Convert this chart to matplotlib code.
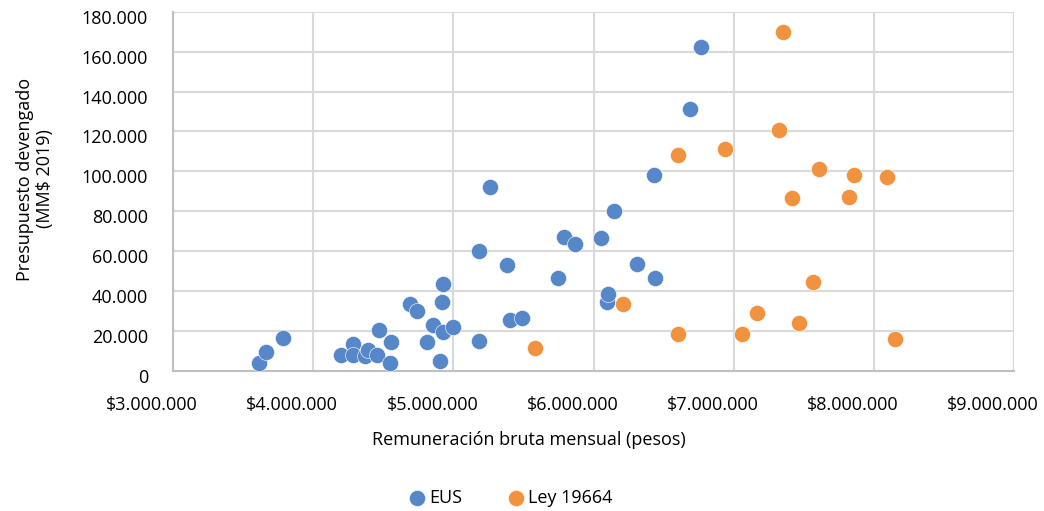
import matplotlib
matplotlib.use("Agg")
import matplotlib.pyplot as plt
import matplotlib.transforms as mtransforms
from matplotlib.ticker import FuncFormatter, MultipleLocator

plt.rcParams['font.family'] = ['Open Sans', 'DejaVu Sans']

# EUS: remuneración bruta mensual (pesos) vs presupuesto devengado (MM$ 2019)
eus_x = [3616000, 3665000, 3784000, 4197000, 4287000, 4287000, 4370000, 4394000,
         4458000, 4473000, 4549000, 4554000, 4688000, 4738000, 4810000, 4856000,
         4904000, 4920000, 4927000, 4927000, 5000000, 5185000, 5185000, 5261000,
         5385000, 5401000, 5487000, 5744000, 5789000, 5870000, 6055000, 6094000,
         6101000, 6146000, 6310000, 6433000, 6436000, 6690000, 6768000]
eus_y = [3860, 9670, 16390, 8020, 13530, 8020, 7520, 10530,
         8020, 20550, 4160, 14690, 33580, 30230, 14690, 23060,
         5160, 34740, 43450, 19700, 21900, 60300, 14890, 92360,
         52980, 25400, 26400, 46770, 67300, 63490, 66500, 34740,
         38440, 80200, 53630, 98200, 46770, 131330, 162560]

# Ley 19664
ley_x = [5582000, 6213000, 6603000, 6603000, 6935000, 7063000, 7163000, 7320000,
         7353000, 7419000, 7467000, 7563000, 7608000, 7826000, 7855000, 8093000,
         8150000]
ley_y = [11370, 33580, 18390, 108420, 111430, 18390, 29220, 120800,
         169770, 86560, 24060, 44610, 101400, 87220, 98250, 97090,
         16040]

blue = '#5687C9'
orange = '#F1923F'


def dots(v):
    return f"{int(round(v)):,}".replace(",", ".")


W, H = 1044, 511
fig = plt.figure(figsize=(W / 100, H / 100), dpi=100)
ax = fig.add_axes([173 / W, 1 - 371 / H, (1014 - 173) / W, (371 - 11.7) / H])

ax.scatter(eus_x, eus_y, s=135, color=blue, edgecolors='white', linewidths=0.4,
           label='EUS', zorder=3)
ax.scatter(ley_x, ley_y, s=135, color=orange, edgecolors='white', linewidths=0.4,
           label='Ley 19664', zorder=3)

ax.set_xlim(3000000, 9000000)
ax.set_ylim(0, 180000)
ax.xaxis.set_major_locator(MultipleLocator(1000000))
ax.yaxis.set_major_locator(MultipleLocator(20000))
ax.xaxis.set_major_formatter(FuncFormatter(lambda v, p: "$" + dots(v)))
ax.yaxis.set_major_formatter(FuncFormatter(lambda v, p: dots(v)))

ax.grid(True, color='#D9D9D9', linewidth=1.5, zorder=0)
ax.set_axisbelow(True)
for side in ['top', 'right']:
    ax.spines[side].set_visible(False)
for side in ['left', 'bottom']:
    ax.spines[side].set_color('#BFBFBF')
    ax.spines[side].set_linewidth(1.5)

ax.tick_params(axis='both', length=0, labelsize=13, colors='#000000')
ax.tick_params(axis='y', pad=18)
ax.tick_params(axis='x', pad=14)

# the source chart draws its tick labels slightly offset from the gridlines
xshift = mtransforms.ScaledTranslation(-21 / 100, -6 / 100, fig.dpi_scale_trans)
for lab in ax.get_xticklabels():
    lab.set_transform(lab.get_transform() + xshift)
yshift = mtransforms.ScaledTranslation(0, -5 / 100, fig.dpi_scale_trans)
for lab in ax.get_yticklabels():
    lab.set_transform(lab.get_transform() + yshift)

fig.text(529 / W, 1 - 440 / H, 'Remuneración bruta mensual (pesos)',
         ha='center', va='center', fontsize=13)
fig.text(35 / W, 1 - 179 / H, 'Presupuesto devengado\n(MM$ 2019)',
         ha='center', va='center', rotation=90, fontsize=13,
         multialignment='center', linespacing=1.1)

fig.legend(loc='center', bbox_to_anchor=(506 / W, 1 - 498 / H), ncol=2,
           frameon=False, fontsize=13, handletextpad=-0.35, columnspacing=2.0,
           markerscale=1.0, borderaxespad=0)

fig.savefig('out.png', dpi=100)
